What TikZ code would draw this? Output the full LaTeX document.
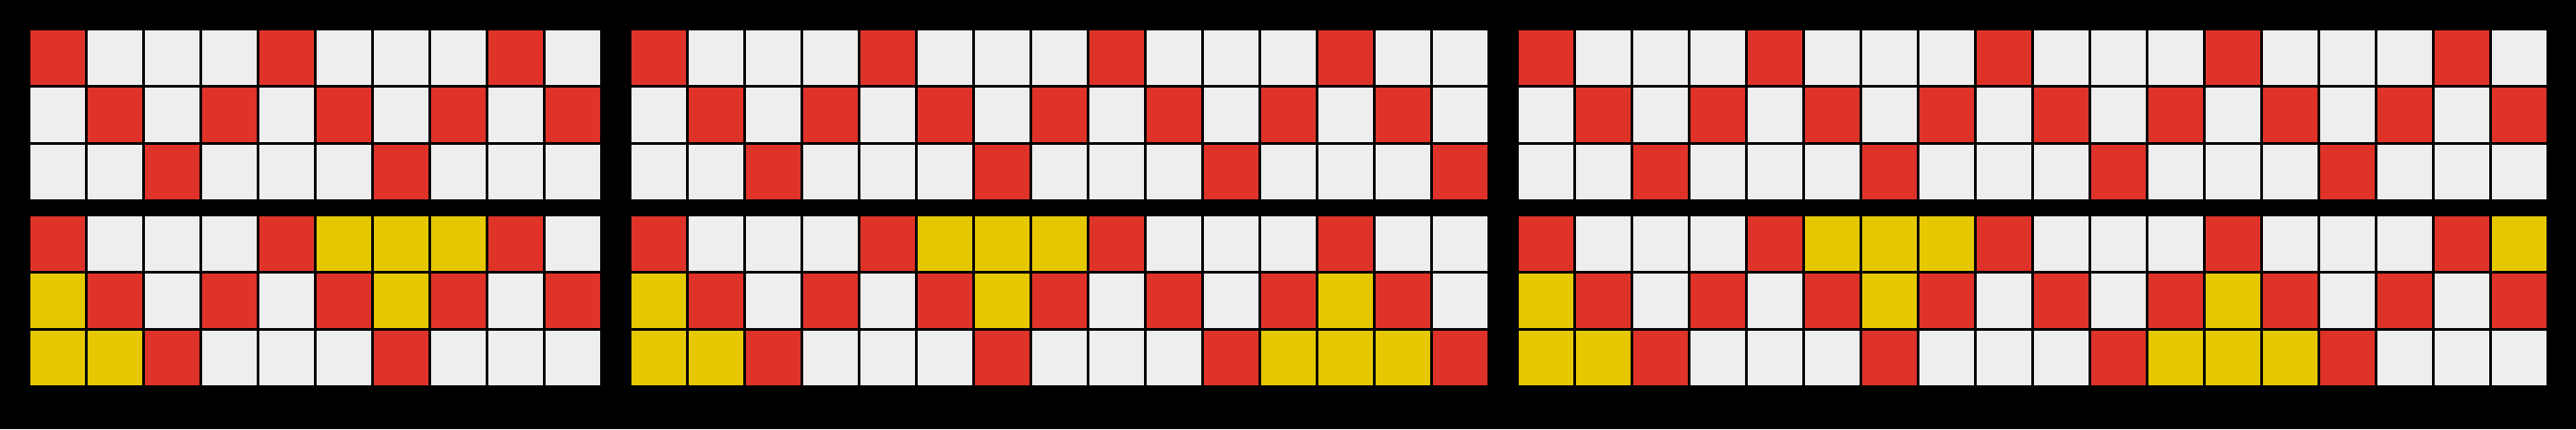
\documentclass[tikz,border=0pt]{standalone}
\definecolor{zigred}{RGB}{223,51,41}
\definecolor{ziggray}{RGB}{238,238,238}
\definecolor{zigyellow}{RGB}{230,200,0}
\tikzset{
  cell/.style = {draw=black, line width=0.042cm},
  blank cell/.style = {cell, fill=ziggray},
  zig cell/.style = {cell, fill=zigred},
  fill cell/.style = {cell, fill=zigyellow}
}

\begin{document}
\begin{tikzpicture}
  \fill[black] (0,0) rectangle (45,-7.5);
  % grids with the zigzag
  \foreach \X/\N in {0.51/10,11.01/15,26.51/18} {
    \foreach \Y in {-0.51,-3.76} {
      \foreach \C in {1,...,\N} {
        \pgfmathtruncatemacro{\K}{\C-1}
        \pgfmathtruncatemacro{\R}{ifthenelse(mod(\K,4)==0,0,ifthenelse(mod(\K,4)==2,2,1))}
        \foreach \RR in {0,1,2} {
          \draw[blank cell] ({\X+\K},{\Y-\RR}) rectangle ++(1,-1);
        }
        \draw[zig cell] ({\X+\K},{\Y-\R}) rectangle ++(1,-1);
      }
    }
  }
  % filled gaps
  \foreach \X in {0.51,11.01,26.51} {
    \foreach \C/\R in {5/0,6/0,7/0,0/1,6/1,0/2,1/2} {
      \draw[fill cell] ({\X+\C},{-3.76-\R}) rectangle ++(1,-1);
    }
  }
  \foreach \X in {11.01,26.51} {
    \foreach \C/\R in {12/1,11/2,12/2,13/2} {
      \draw[fill cell] ({\X+\C},{-3.76-\R}) rectangle ++(1,-1);
    }
  }
  \draw[fill cell] ({26.51+17},-3.76) rectangle ++(1,-1);
\end{tikzpicture}
\end{document}
